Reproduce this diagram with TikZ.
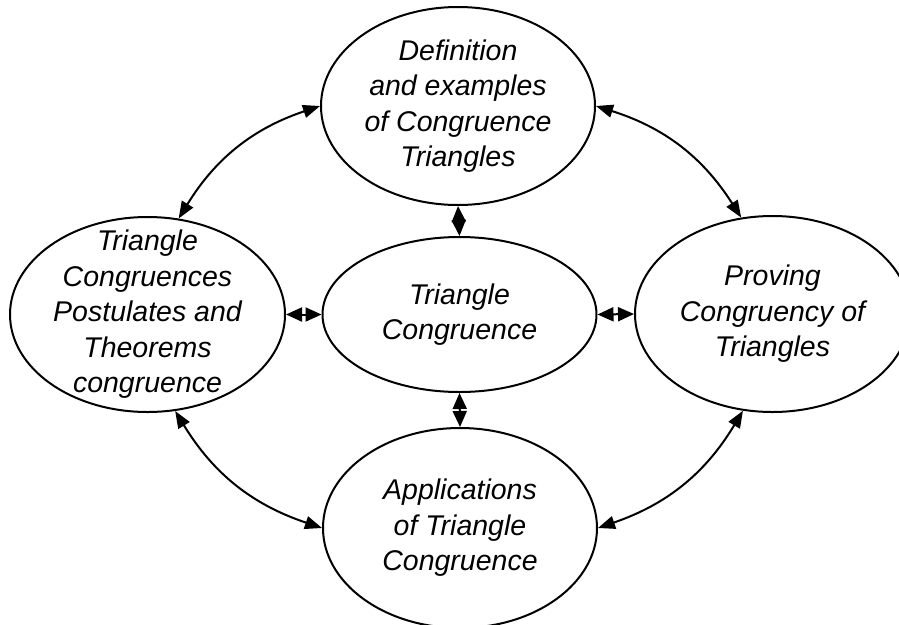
\documentclass[tikz,border=0pt]{standalone}
\usepackage{fontspec}
\setmainfont{Liberation Sans}
\usetikzlibrary{shapes.geometric, arrows.meta}

\tikzset{
    bubble/.style={ellipse, draw, line width=2pt, inner sep=0pt, minimum width=274pt, minimum height=198pt},
    txt/.style={align=center, inner sep=0pt, font=\itshape\fontsize{28.5}{35.5}\selectfont},
    loop link/.style={line width=2pt, {Triangle[length=17pt,width=13pt]}-{Triangle[length=17pt,width=13pt]}, bend left=20},
    hub link/.style={line width=2pt, {Triangle[length=16pt,width=14pt]}-{Triangle[length=16pt,width=14pt]}}
}

\begin{document}
\begin{tikzpicture}[x=1pt, y=-1pt]
    \useasboundingbox (0,0) rectangle (899,624);

    % the five topics
    \node[bubble, label={[txt]center:Definition\\and examples\\of Congruence\\Triangles}] (defn) at (458,106) {};
    \node[bubble, minimum height=155pt, label={[txt]center:Triangle\\Congruence}] (hub) at (459.5,314.5) {};
    \node[bubble, minimum width=275pt, minimum height=195pt, label={[txt]center:Triangle\\Congruences\\Postulates and\\Theorems\\congruence}] (post) at (147.5,314.5) {};
    \node[bubble, minimum width=275pt, minimum height=196pt, label={[txt]center:Proving\\Congruency of\\Triangles}] (prov) at (772.5,314) {};
    \node[bubble, minimum height=200pt, label={[txt]center:Applications\\of Triangle\\Congruence}] (appl) at (460,528) {};

    % curved arrows round the outside
    \draw[loop link] (post.72) to (defn.west);
    \draw[loop link] (defn.east) to (prov.108);
    \draw[loop link] (prov.-107) to (appl.east);
    \draw[loop link] (appl.west) to (post.-74);

    % short arrows to the centre
    \draw[hub link] (defn.south) -- (hub.north);
    \draw[hub link] (hub.south) -- (appl.north);
    \draw[hub link] (post.east) -- (hub.west);
    \draw[hub link] (hub.east) -- (prov.west);
\end{tikzpicture}
\end{document}
